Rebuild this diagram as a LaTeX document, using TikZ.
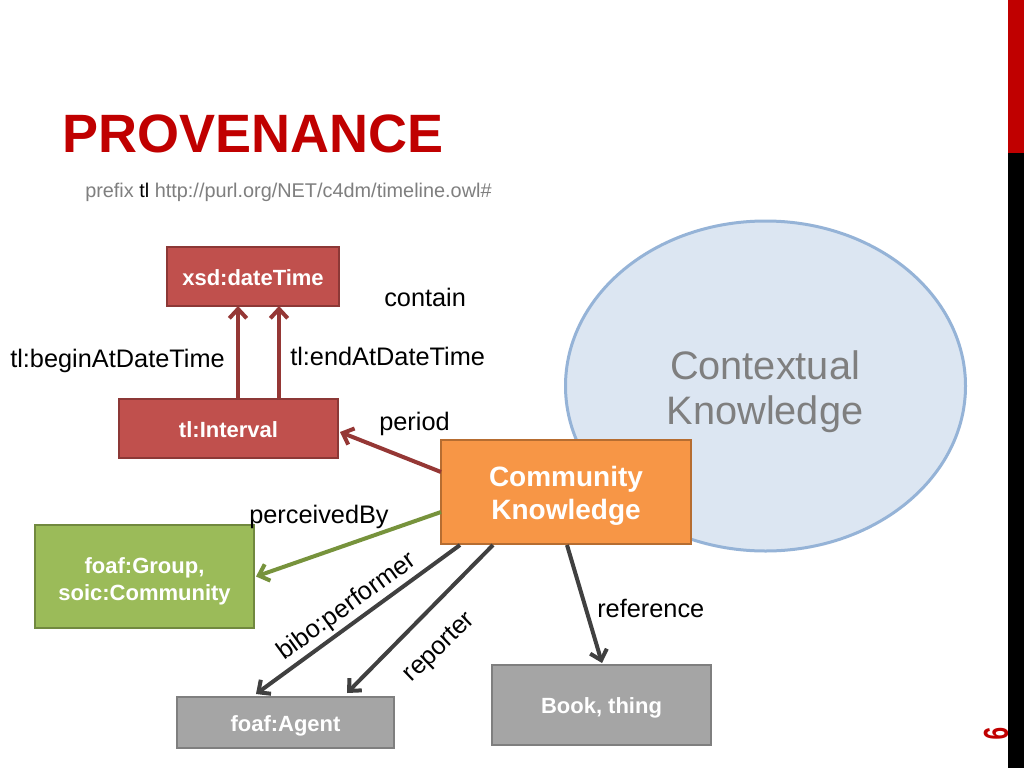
\documentclass[tikz,border=0pt]{standalone}
\usepackage{fontspec}
\usepackage{graphicx}
\setmainfont{Liberation Sans}
\usetikzlibrary{arrows.meta,calc,shapes.geometric}
\definecolor{titlered}{HTML}{C00000}
\definecolor{rfill}{HTML}{C0504D}
\definecolor{rborder}{HTML}{8C3836}
\definecolor{rarrow}{HTML}{953735}
\definecolor{ofill}{HTML}{F79646}
\definecolor{oborder}{HTML}{B66D31}
\definecolor{gfill}{HTML}{9BBB59}
\definecolor{gborder}{HTML}{71893F}
\definecolor{garrow}{HTML}{77933C}
\definecolor{kfill}{HTML}{A5A5A5}
\definecolor{kborder}{HTML}{7F7F7F}
\definecolor{karrow}{HTML}{404040}
\definecolor{efill}{HTML}{DCE6F2}
\definecolor{eborder}{HTML}{95B3D7}
\definecolor{greytext}{HTML}{7F7F7F}
\begin{document}
\begin{tikzpicture}[x=0.75pt,y=-0.75pt,
  box/.style={draw, line width=1.9pt, inner sep=0pt, outer sep=0pt, text=white,
    font=\bfseries\fontsize{16.5}{20}\selectfont, align=center, text height=16.5pt, text depth=3.3pt},
  boxtext/.style={inner sep=0pt, text=white, align=center},
  redbox/.style={box, fill=rfill, draw=rborder},
  greenbox/.style={box, fill=gfill, draw=gborder},
  greybox/.style={box, fill=kfill, draw=kborder},
  orangebox/.style={box, fill=ofill, draw=oborder},
  lbl/.style={font=\fontsize{19}{23}\selectfont, inner sep=0pt, anchor=base west, text=black},
  arr/.style={line width=3pt, -{Straight Barb[length=7pt,width=13pt]}},
  redarr/.style={arr, draw=rarrow},
  greenarr/.style={arr, draw=garrow},
  greyarr/.style={arr, draw=karrow}
]
\useasboundingbox (0,0) rectangle (1024,768);
\fill[white] (0,0) rectangle (1024,768);

% title
\node[anchor=base west, inner sep=0pt, text=titlered, font=\bfseries\fontsize{40.5}{48}\selectfont] (title) at (62,152) {PROVENANCE};
\node[anchor=base west, inner sep=0pt, text=greytext, font=\fontsize{14.9}{18}\selectfont] (prefix) at (85,197) {prefix \textcolor{black}{tl} http://purl.org/NET/c4dm/timeline.owl\#};

% ellipse
\node[ellipse, draw=eborder, fill=efill, line width=2.25pt, minimum width=300pt, minimum height=247.5pt, inner sep=0pt] (ctx) at (765.5,386) {};
\node[text=greytext, align=center, font=\fontsize{29.8}{33.75}\selectfont, inner sep=0pt] (ctxt) at (765,392) {Contextual\\Knowledge};

% nodes
\node[redbox, minimum width=129pt, minimum height=44.25pt] (xsd) at (253,276.5) {xsd:dateTime};
\node[redbox, minimum width=164.25pt, minimum height=44.25pt] (iv) at (228.5,428.5) {tl:Interval};
\node[orangebox, minimum width=187.5pt, minimum height=78pt] (ck) at (566,492) {};
\node[boxtext, font=\bfseries\fontsize{21}{25}\selectfont] (ckt) at ([yshift=-3pt]ck.center) {Community\\Knowledge};
\node[greenbox, minimum width=164.25pt, minimum height=77.25pt] (gr) at (144.5,576.5) {};
\node[boxtext, font=\bfseries\fontsize{16.5}{20}\selectfont] (grt) at ([yshift=-3.4pt]gr.center) {foaf:Group,\\soic:Community};
\node[greybox, minimum width=162.75pt, minimum height=38.25pt] (ag) at (285.5,722.5) {foaf:Agent};
\node[greybox, minimum width=164.25pt, minimum height=60pt] (bk) at (601.5,705) {Book, thing};

% connector end points
\coordinate (b1) at ($(iv.north)+(9.5,0)$);
\coordinate (b2) at ($(iv.north)+(50.5,0)$);
\coordinate (p1) at ($(ck.west)+(0,-20)$);
\coordinate (p2) at ($(iv.east)+(2,3.5)$);
\coordinate (g1) at ($(ck.west)+(0,20)$);
\coordinate (g2) at ($(gr.east)+(2,0)$);
\coordinate (bp1) at ($(ck.south west)+(19,1)$);
\coordinate (bp2) at ($(ag.north west)+(79,-3)$);
\coordinate (rp1) at ($(ck.south west)+(52,1)$);
\coordinate (rp2) at ($(ag.north west)+(170,-4)$);
\coordinate (rf1) at ($(ck.south)+(1,1)$);
\coordinate (rf2) at ($(bk.north)+(0.5,-2)$);

% connectors
\draw[redarr] (b1) -- (b1 |- xsd.south);
\draw[redarr] (b2) -- (b2 |- xsd.south);
\draw[redarr] (p1) -- (p2);
\draw[greenarr] (g1) -- (g2);
\draw[greyarr] (bp1) -- (bp2);
\draw[greyarr] (rp1) -- (rp2);
\draw[greyarr] (rf1) -- (rf2);

% labels
\node[lbl] (lbegin) at (10,367) {tl:beginAtDateTime};
\node[lbl] (lend) at (290,365) {tl:endAtDateTime};
\node[lbl] (lcontain) at (384,306) {contain};
\node[lbl] (lperiod) at (379,430) {period};
\node[lbl] (lperc) at (249,523) {perceivedBy};
\node[lbl] (lref) at (597,617) {reference};
\node[font=\fontsize{19}{23}\selectfont, inner sep=0pt, rotate=36] (lbibo) at (347,607) {bibo:performer};
\node[font=\fontsize{19}{23}\selectfont, inner sep=0pt, rotate=44] (lrep) at (440,648) {reporter};

% page number and side bar
\node[rotate=-90, inner sep=0pt, text=titlered, font=\bfseries\fontsize{26}{30}\selectfont] (pnum) at (996,734) {\scalebox{0.65}[1]{9}};
\fill[titlered] (1008,0) rectangle (1024,153);
\fill[black] (1008,153) rectangle (1024,768);
\end{tikzpicture}
\end{document}
